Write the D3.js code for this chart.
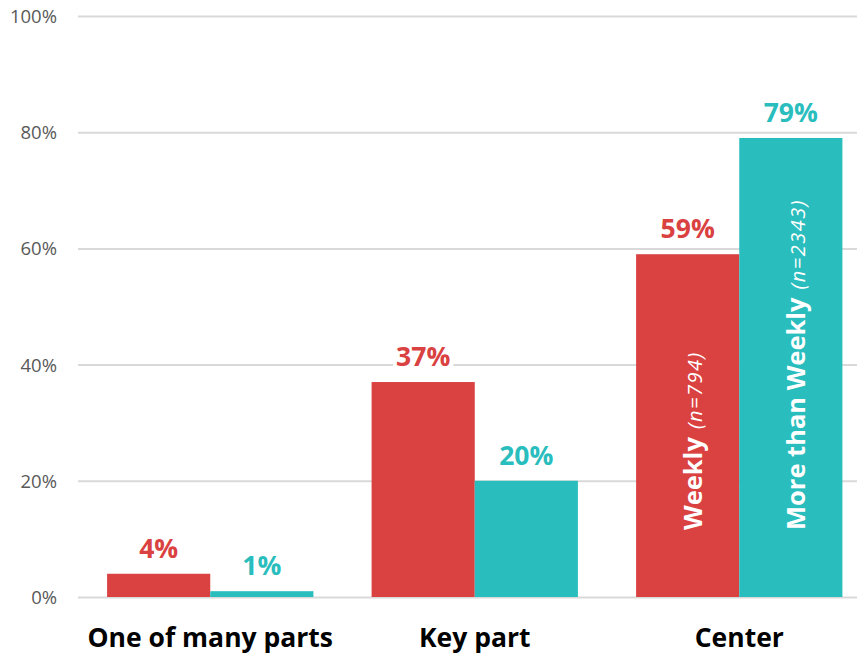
<!DOCTYPE html>
<html><head><meta charset="utf-8">
<script src="https://cdn.jsdelivr.net/npm/d3@7"></script>
<style>body{margin:0;background:#fff}svg{display:block}</style>
</head><body>
<svg id="c" width="857" height="656"></svg>
<script>
const categories = ["One of many parts", "Key part", "Center"];
const seriesNames = ["Weekly", "More than Weekly"];
const seriesN = ["(n=794)", "(n=2343)"];
const weekly = [4, 37, 59];
const moreThanWeekly = [1, 20, 79];
const yTicks = [0, 20, 40, 60, 80, 100];
const colors = ["#DA4141", "#29BDBD"];

const svg = d3.select("#c");
const font = "'Open Sans', sans-serif";
const y = d3.scaleLinear().domain([0, 100]).range([597, 16]);
const x0 = d3.scaleBand().domain(categories).range([78, 871.5]).paddingInner(0.22).paddingOuter(0.11);
const x1 = d3.scaleBand().domain([0, 1]).range([0, x0.bandwidth()]);
const series = [weekly, moreThanWeekly];

// gridlines
const yAxis = d3.axisLeft(y).tickValues(yTicks).tickFormat(d => d + "%").tickSize(-(857 - 78)).tickPadding(21);
const ga = svg.append("g").attr("transform", "translate(78,0)").call(yAxis);
ga.select(".domain").remove();
ga.selectAll(".tick line").attr("stroke", "#d9d9d9").attr("stroke-width", 2);
ga.selectAll(".tick text").attr("fill", "#595959").attr("font-family", font).attr("font-size", 18.5).attr("dy", "0.35em");

// bars
categories.forEach((c, i) => {
  const g = svg.append("g").attr("transform", `translate(${x0(c)},0)`);
  series.forEach((s, k) => {
    g.append("rect").attr("x", x1(k)).attr("width", x1.bandwidth())
      .attr("y", y(s[i])).attr("height", y(0) - y(s[i])).attr("fill", colors[k]);
  });
});

// value labels with white backgrounds
categories.forEach((c, i) => {
  series.forEach((s, k) => {
    const cx = x0(c) + x1(k) + x1.bandwidth() / 2;
    const t = svg.append("text").attr("x", cx).attr("y", y(s[i]) - 16)
      .attr("text-anchor", "middle").attr("font-family", font).attr("font-weight", 700)
      .attr("font-size", 26.5).attr("fill", colors[k]).text(s[i] + "%");
    const bb = t.node().getBBox();
    svg.insert("rect", () => t.node()).attr("x", bb.x - 3).attr("y", bb.y + 2).attr("width", bb.width + 6).attr("height", bb.height - 4).attr("fill", "#fff");
  });
});

// rotated series labels inside Center bars
const last = categories[categories.length - 1];
seriesNames.forEach((n, k) => {
  const cx = x0(last) + x1(k) + x1.bandwidth() / 2 + 14;
  const t = svg.append("text").attr("transform", `translate(${cx},530) rotate(-90)`)
    .attr("font-family", font).attr("fill", "#fff");
  t.append("tspan").attr("font-weight", 700).attr("font-size", 25.5).text(n);
  t.append("tspan").attr("dx", 8).attr("font-style", "italic").attr("font-size", 20).attr("letter-spacing", 1.5).text(seriesN[k]);
});

// category labels
svg.selectAll(".cat").data(categories).enter().append("text")
  .attr("x", d => x0(d) + x0.bandwidth() / 2).attr("y", 647)
  .attr("text-anchor", "middle").attr("font-family", font).attr("font-weight", 700)
  .attr("font-size", 26.5).attr("fill", "#000").text(d => d);
</script>
</body></html>
